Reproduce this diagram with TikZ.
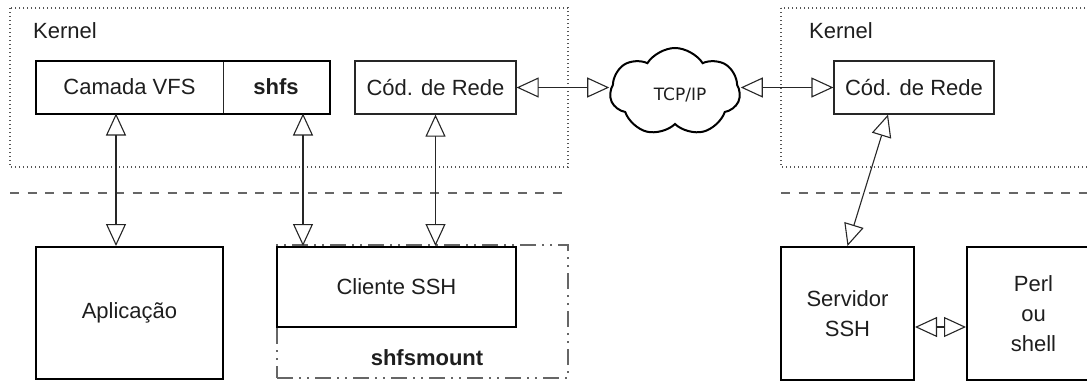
\documentclass[tikz,border=0pt]{standalone}
\usepackage{fontspec}
\setmainfont{Liberation Sans}
\newfontfamily\tcpfont{DejaVu Sans}
\usetikzlibrary{arrows.meta,shapes.symbols}
\definecolor{txt}{HTML}{1E1E1E}
\definecolor{frame}{HTML}{555555}
\begin{document}
\begin{tikzpicture}[x=1pt,y=-1pt,
  lbl/.style={text=txt,font=\fontsize{22}{30}\selectfont,inner sep=0pt,align=center},
  box/.style={lbl,draw=black,line width=2pt,minimum width=#1,inner sep=0pt},
  thinbox/.style={lbl,draw=black!85,line width=1.2pt,minimum width=#1,inner sep=0pt},
  kernelbox/.style={draw=frame,line width=1.4pt,dash pattern=on 1.4pt off 2.6pt},
  sepline/.style={draw=black!60,line width=2pt,dash pattern=on 9pt off 8.5pt},
  mountbox/.style={draw=black!60,line width=1.5pt,dash pattern=on 16pt off 6pt on 2pt off 6pt on 2pt off 6pt},
  opentip/.tip={Triangle[open,length=22pt,width=20pt,fill=white,line width=1.1pt]},
  biarrow/.style={draw=black!85,line width=1.1pt,opentip-opentip},
  cloudnode/.style={cloud,cloud puffs=7,cloud puff arc=115,aspect=1.45,draw=black,line width=2pt,minimum width=130pt,minimum height=88pt,inner sep=0pt},
]
\useasboundingbox (0,0) rectangle (1087,381);

% kernel frames
\draw[kernelbox] (10,8) rectangle (568,167);
\draw[kernelbox] (781,8) rectangle (1100,167);
\node[lbl,anchor=base west] (k1) at (33,38) {Kernel};
\node[lbl,anchor=base west] (k2) at (809,38) {Kernel};

% separator lines
\draw[sepline] (10,193) -- (563,193);
\draw[sepline] (781,193) -- (1090,193);

% kernel boxes
\node[thinbox=187pt,minimum height=52pt,line width=1pt] (vfs) at (129.5,87) {Camada VFS};
\node[thinbox=106pt,minimum height=52pt,line width=1pt,font=\fontsize{22}{30}\selectfont\bfseries] (shfs) at (276,87) {shfs};
\draw[line width=2pt] (vfs.north west) rectangle (shfs.south east);
\node[thinbox=161pt,minimum height=53pt] (lcod) at (435.5,87.5) {Cód. de Rede};
\node[thinbox=160pt,minimum height=53pt] (rcod) at (914,87.5) {Cód. de Rede};

% cloud
\node[cloudnode] (net) at (675,92) {};
\node[font=\tcpfont\fontsize{17}{20}\selectfont,text=txt,inner sep=0pt] (tcp) at (680,95) {TCP/IP};

% user space boxes
\node[box=187pt,minimum height=132pt] (app) at (129.5,313) {Aplicação};
\node[mountbox,minimum width=291pt,minimum height=133pt,inner sep=0pt] (mount) at (422.5,311.5) {};
\node[box=239pt,minimum height=80pt,fill=white] (cli) at (396.5,287) {Cliente SSH};
\node[lbl,font=\fontsize{22}{30}\selectfont\bfseries] (mlabel) at (427,358) {shfsmount};
\node[box=133pt,minimum height=133pt] (srv) at (847.5,313.5) {Servidor\\SSH};
\node[box=133pt,minimum height=133pt] (perl) at (1033.5,313.5) {Perl\\ou\\shell};

% connectors
\coordinate (x2) at (303,0);
\draw[biarrow] ([xshift=-13.5pt]vfs.south) -- ([xshift=-13.5pt]app.north);
\draw[biarrow] (shfs.south -| x2) -- (cli.north -| x2);
\draw[biarrow] (lcod.south) -- (cli.north -| lcod.south);
\draw[biarrow] (lcod.east) -- (lcod.east -| net.west);
\draw[biarrow] (rcod.west -| net.east) -- (rcod.west);
\draw[biarrow] ([xshift=-26pt]rcod.south) -- (srv.north);
\draw[biarrow] ([yshift=-13.5pt]srv.east) -- ([yshift=-13.5pt]perl.west);
\end{tikzpicture}
\end{document}
